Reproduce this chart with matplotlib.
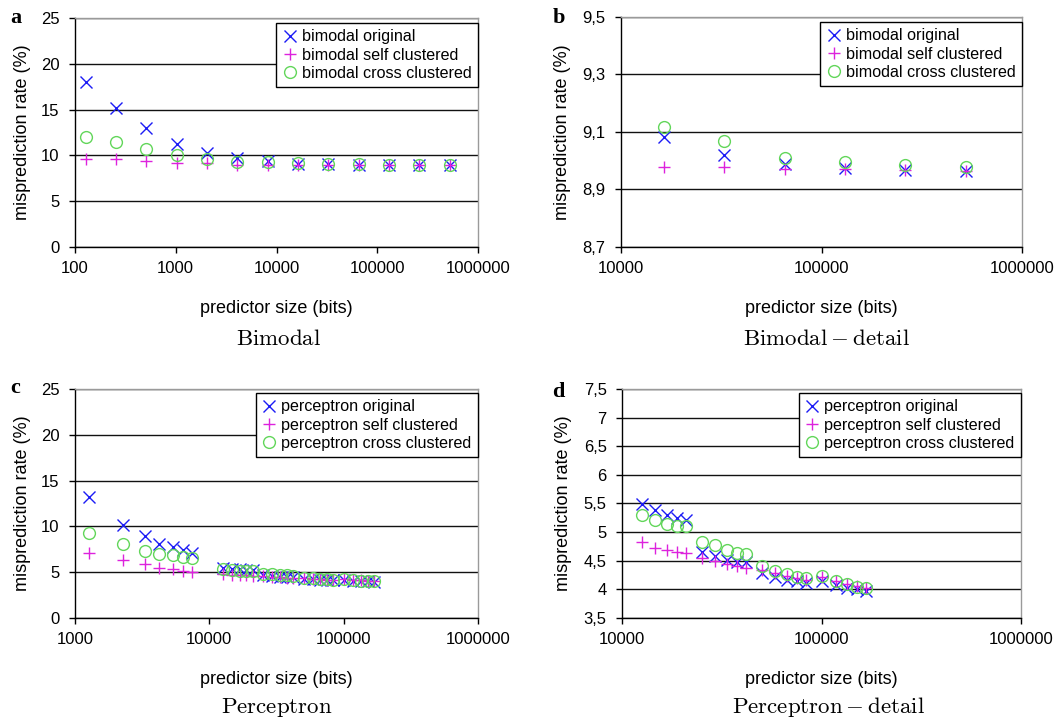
import matplotlib
matplotlib.use("Agg")
import matplotlib.pyplot as plt
from matplotlib.ticker import FixedLocator, NullLocator, FixedFormatter

plt.rcParams["font.family"] = ["Liberation Sans", "DejaVu Sans"]
plt.rcParams["mathtext.fontset"] = "cm"

# ---- bimodal predictor ----
bimodal_size = [128, 256, 512, 1024, 2048, 4096, 8192, 16384, 32768,
                65536, 131072, 262144, 524288]
bimodal_original = [18.0, 15.2, 13.0, 11.2, 10.3, 9.7, 9.4, 9.084, 9.021,
                    8.987, 8.974, 8.968, 8.966]
bimodal_self = [9.6, 9.6, 9.4, 9.2, 9.15, 9.0, 8.98, 8.977, 8.977,
                8.973, 8.971, 8.967, 8.965]
bimodal_cross = [12.05, 11.45, 10.65, 10.05, 9.65, 9.3, 9.3, 9.116, 9.069,
                 9.010, 8.997, 8.986, 8.978]

# ---- perceptron predictor ----
perc_size = [1270, 2290, 3320, 4250, 5400, 6410, 7490,
             12600, 14700, 16800, 18900, 21000,
             25200, 29400, 33600, 37800, 42000,
             50400, 58800, 67200, 75600, 84000,
             100800, 117600, 134400, 151200, 168000]
perc_original = [13.2, 10.2, 8.93, 8.13, 7.73, 7.37, 7.11,
                 5.49, 5.39, 5.30, 5.24, 5.21,
                 4.66, 4.59, 4.51, 4.48, 4.47,
                 4.29, 4.22, 4.16, 4.15, 4.12,
                 4.15, 4.08, 4.03, 4.00, 3.98]
perc_self = [7.11, 6.38, 5.91, 5.47, 5.40, 5.11, 5.04,
             4.82, 4.73, 4.69, 4.65, 4.63,
             4.55, 4.50, 4.45, 4.41, 4.38,
             4.34, 4.29, 4.23, 4.19, 4.16,
             4.22, 4.15, 4.10, 4.06, 4.03]
perc_cross = [9.23, 8.06, 7.33, 7.04, 6.86, 6.68, 6.53,
              5.30, 5.21, 5.14, 5.11, 5.10,
              4.82, 4.78, 4.68, 4.64, 4.61,
              4.40, 4.32, 4.26, 4.22, 4.20,
              4.23, 4.15, 4.09, 4.05, 4.02]

panel_letters = ["a", "b", "c", "d"]
captions = [r"$\mathrm{Bimodal}$", r"$\mathrm{Bimodal} - \mathrm{detail}$",
            r"$\mathrm{Perceptron}$", r"$\mathrm{Perceptron} - \mathrm{detail}$"]

BLUE = "#1c1cf5"
MAGENTA = "#dd22dd"
GREEN = "#62d65a"

W, H = 1057, 720
fig = plt.figure(figsize=(W / 100, H / 100), dpi=100)


def px_axes(left, top, right, bottom):
    return fig.add_axes([left / W, 1 - bottom / H, (right - left) / W, (bottom - top) / H])


def style(ax, xlim, xticks, yticks, yticklabels, ylab_x):
    ax.set_xscale("log")
    ax.set_xlim(*xlim)
    ax.set_ylim(yticks[0], yticks[-1])
    ax.xaxis.set_major_locator(FixedLocator(xticks))
    ax.xaxis.set_major_formatter(FixedFormatter([str(int(t)) for t in xticks]))
    ax.xaxis.set_minor_locator(NullLocator())
    ax.yaxis.set_major_locator(FixedLocator(yticks))
    ax.yaxis.set_major_formatter(FixedFormatter(yticklabels))
    ax.yaxis.grid(True, color="#111111", linewidth=1.0)
    ax.set_axisbelow(True)
    ax.tick_params(direction="out", length=4, width=1, labelsize=12, colors="black")
    ax.tick_params(axis="x", pad=6)
    ax.tick_params(axis="y", pad=7)
    for s in ("left", "bottom"):
        ax.spines[s].set_color("black")
        ax.spines[s].set_linewidth(1.0)
    for s in ("top", "right"):
        ax.spines[s].set_color("#9a9a9a")
        ax.spines[s].set_linewidth(1.0)
    ax.set_ylabel("misprediction rate (%)", fontsize=13)
    ax.set_xlabel("predictor size (bits)", fontsize=13)
    ax.xaxis.set_label_coords(0.5, -0.232)
    ax.yaxis.set_label_coords(ylab_x, 0.5)


def plot_series(ax, x, yo, ys, yc, name, top_gap):
    ax.plot(x, yo, linestyle="none", marker="x", ms=8, mew=1.0, color=BLUE,
            label=f"{name} original", clip_on=False)
    ax.plot(x, ys, linestyle="none", marker="+", ms=8.5, mew=1.0, color=MAGENTA,
            label=f"{name} self clustered", clip_on=False)
    ax.plot(x, yc, linestyle="none", marker="o", ms=8.5, mew=1.0, mfc="none",
            color=GREEN, label=f"{name} cross clustered", clip_on=False)
    leg = ax.legend(loc="upper right", bbox_to_anchor=(1.0, 1 - top_gap),
                    borderaxespad=0, fontsize=11.6, frameon=True, fancybox=False,
                    edgecolor="black", framealpha=1, handlelength=0.9,
                    handletextpad=0.3, borderpad=0.4, labelspacing=0.2)
    leg.get_frame().set_linewidth(1.0)


ax_a = px_axes(75, 18, 478, 247)
plot_series(ax_a, bimodal_size, bimodal_original, bimodal_self, bimodal_cross,
            "bimodal", 5 / 229)
style(ax_a, (100, 1e6), [100, 1000, 10000, 100000, 1000000],
      [0, 5, 10, 15, 20, 25], ["0", "5", "10", "15", "20", "25"], -0.108)

n_b = 7
ax_b = px_axes(621, 17, 1022, 247)
plot_series(ax_b, bimodal_size[n_b:], bimodal_original[n_b:], bimodal_self[n_b:],
            bimodal_cross[n_b:], "bimodal", 5 / 230)
style(ax_b, (10000, 1e6), [10000, 100000, 1000000],
      [8.7, 8.9, 9.1, 9.3, 9.5], ["8,7", "8,9", "9,1", "9,3", "9,5"], -0.125)

ax_c = px_axes(75, 389, 478, 618)
plot_series(ax_c, perc_size, perc_original, perc_self, perc_cross,
            "perceptron", 4 / 229)
style(ax_c, (1000, 1e6), [1000, 10000, 100000, 1000000],
      [0, 5, 10, 15, 20, 25], ["0", "5", "10", "15", "20", "25"], -0.108)

n_d = 7
ax_d = px_axes(622, 389, 1021, 618)
plot_series(ax_d, perc_size[n_d:], perc_original[n_d:], perc_self[n_d:],
            perc_cross[n_d:], "perceptron", 4 / 229)
style(ax_d, (10000, 1e6), [10000, 100000, 1000000],
      [3.5, 4, 4.5, 5, 5.5, 6, 6.5, 7, 7.5],
      ["3,5", "4", "4,5", "5", "5,5", "6", "6,5", "7", "7,5"], -0.125)

# panel letters
for (xp, yp), letter in zip([(10, 18), (553, 18), (10, 388), (552, 392)], panel_letters):
    fig.text(xp / W, 1 - yp / H, letter, fontsize=16, fontweight="bold",
             family=["Liberation Serif", "DejaVu Serif"], va="center", ha="left")

# captions under each panel, placed by baseline
for (xp, yp), cap in zip([(279, 345), (826, 345), (277, 713), (829, 713)], captions):
    fig.text(xp / W, 1 - yp / H, cap, fontsize=16.5, va="baseline", ha="center")

fig.savefig("out.png", dpi=100)
